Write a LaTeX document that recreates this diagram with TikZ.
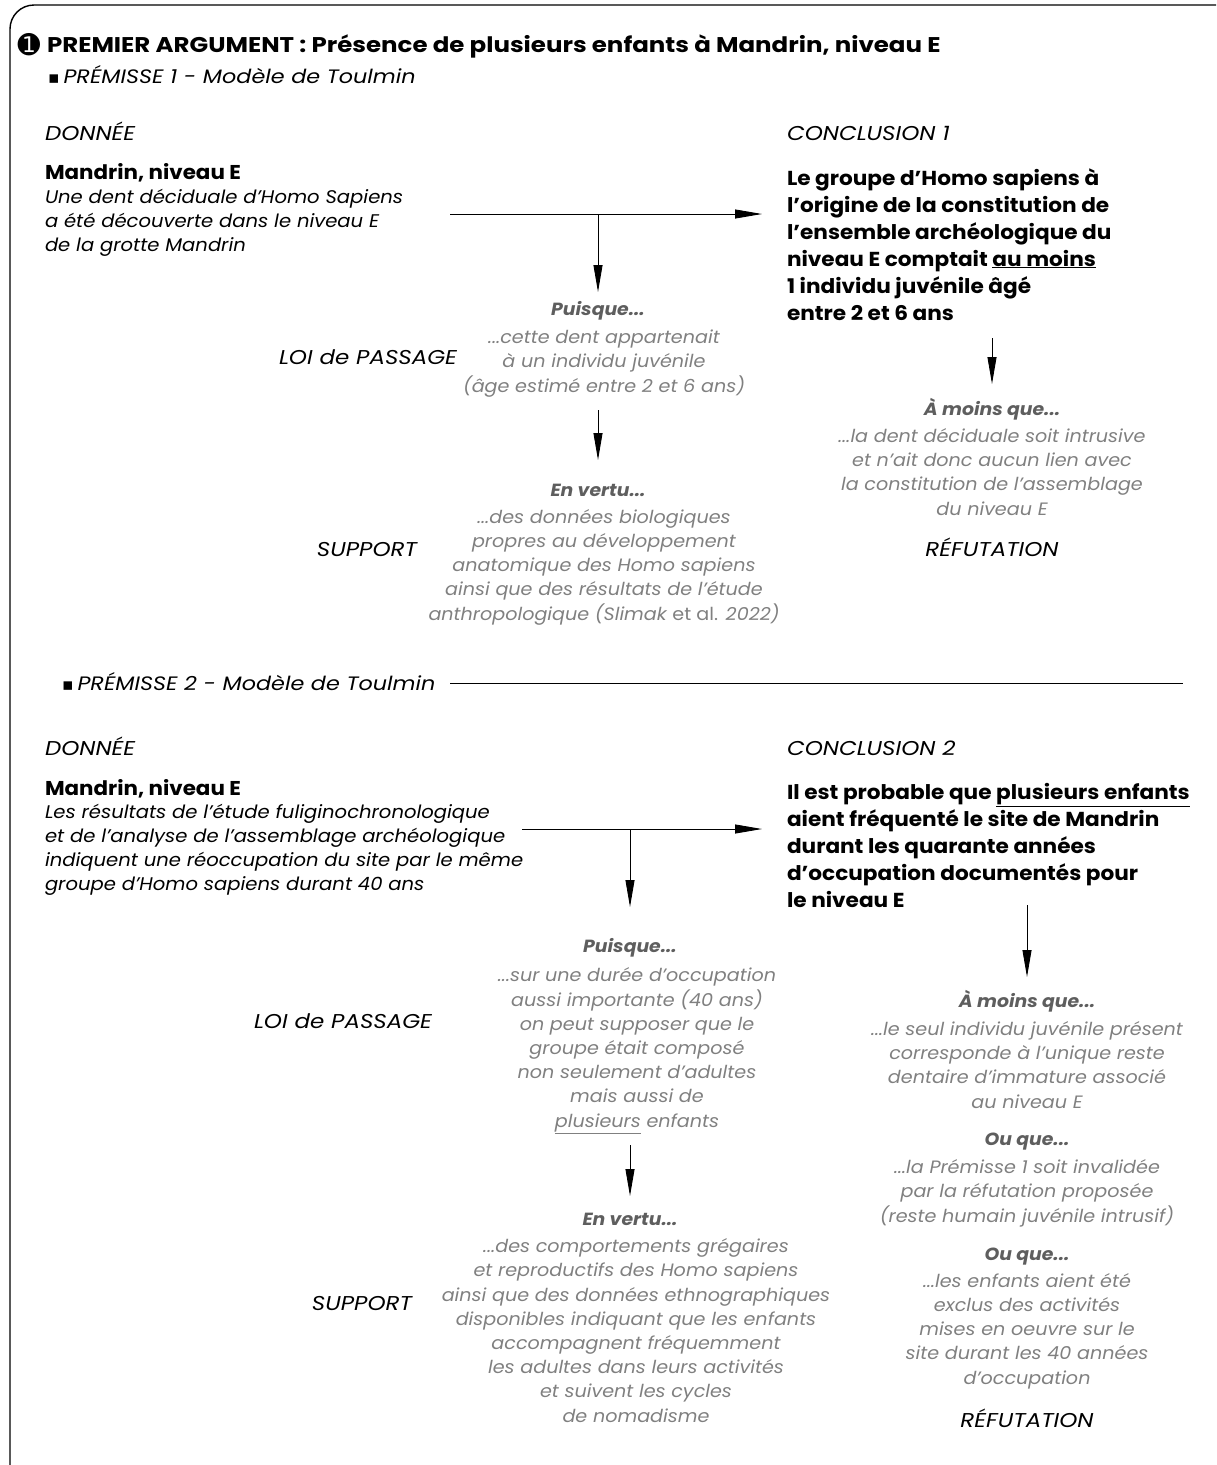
\documentclass[tikz,border=0pt]{standalone}
\usepackage{fontspec}
\setmainfont{Poppins}[FakeStretch=1.07]
\newfontfamily\widefont{Poppins}[FakeStretch=1.15]
\newfontfamily\symfont{DejaVu Sans}
\usetikzlibrary{arrows.meta}
\definecolor{txtgray}{HTML}{808080}
\definecolor{headgray}{HTML}{5E5E5E}
\begin{document}
\begin{tikzpicture}[x=1pt,y=-1pt,
  every node/.style={inner sep=0pt, outer sep=0pt},
  titlef/.style={font=\widefont\fontsize{21.3}{24}\selectfont\bfseries},
  numf/.style={font=\symfont\fontsize{27}{27}\selectfont},
  subf/.style={font=\widefont\fontsize{19.4}{24}\selectfont\itshape},
  lblf/.style={font=\widefont\fontsize{20}{24}\selectfont\itshape},
  boldf/.style={font=\fontsize{20}{24}\selectfont\bfseries},
  concf/.style={font=\fontsize{20.2}{27}\selectfont\bfseries, align=left},
  dataf/.style={font=\fontsize{18.3}{24}\selectfont\itshape, align=left},
  grayf/.style={font=\fontsize{17.9}{24.2}\selectfont\itshape, text=txtgray, align=center},
  headf/.style={font=\fontsize{17.6}{24}\selectfont\bfseries\itshape, text=headgray},
  arr/.style={line width=0.9pt, -{Triangle[length=27pt,width=9pt]}},
]
\useasboundingbox (0,0) rectangle (1216,1465);
\begin{scope}
\clip (0,0) rectangle (1216,1465);
\draw[line width=1.4pt, rounded corners=24pt] (10,5) rectangle (1240,1490);
\end{scope}

% Title
\node[numf] (num) at (29,45) {➊};
\node[anchor=base west, titlef] (title) at (47,52) {PREMIER ARGUMENT : Présence de plusieurs enfants à Mandrin, niveau E};
\node[anchor=base west, subf] (p1) at (48,83) {{\symfont\fontsize{17}{17}\selectfont ▪}\hspace{4pt}PRÉMISSE 1 - Modèle de Toulmin};

% Premise 1
\node[anchor=base west, lblf] (d1) at (45,140) {DONNÉE};
\node[anchor=base west, boldf] (m1) at (45,179) {Mandrin, niveau E};
\node[anchor=base west, dataf] (dt1) at (45,251) {Une dent déciduale d’Homo Sapiens\\a été découverte dans le niveau E\\de la grotte Mandrin};
\node[anchor=base west, lblf] (c1l) at (787,140) {CONCLUSION 1};
\node[anchor=base west, concf] (c1) at (787,320) {Le groupe d’Homo sapiens à\\l’origine de la constitution de\\l’ensemble archéologique du\\niveau E comptait \underline{au moins}\\1 individu juvénile âgé\\entre 2 et 6 ans};

\coordinate (a1s) at (450,214);
\coordinate (a1e) at (762,214);
\coordinate (a1m) at (598,214);
\draw[arr] (a1s) -- (a1e);
\coordinate (v1e) at (598,292);
\draw[arr] (a1m) -- (v1e);

\node[anchor=base, headf] (pu1) at (598,315) {Puisque...};
\node[anchor=base, grayf] (pu1t) at (604,392) {...cette dent appartenait\\à un individu juvénile\\(âge estimé entre 2 et 6 ans)};
\node[anchor=base, lblf] (loi1) at (368,364) {LOI de PASSAGE};
\coordinate (v2s) at (598,410);
\coordinate (v2e) at (598,460);
\draw[arr] (v2s) -- (v2e);
\node[anchor=base, headf] (ev1) at (598,496) {En vertu...};
\node[anchor=base, grayf] (ev1t) at (604,620) {...des données biologiques\\propres au développement\\anatomique des Homo sapiens\\ainsi que des résultats de l’étude\\anthropologique (Slimak {\upshape et al.} 2022)};
\node[anchor=base, lblf] (sup1) at (367,556) {SUPPORT};

\coordinate (v3s) at (992,338);
\coordinate (v3e) at (992,384);
\draw[arr] (v3s) -- (v3e);
\node[anchor=base, headf] (am1) at (992,415) {À moins que...};
\node[anchor=base, grayf] (am1t) at (992,515) {...la dent déciduale soit intrusive\\et n’ait donc aucun lien avec\\la constitution de l’assemblage\\du niveau E};
\node[anchor=base, lblf] (ref1) at (992,556) {RÉFUTATION};

% Premise 2
\node[anchor=base west, subf] (p2) at (62,690) {{\symfont\fontsize{17}{17}\selectfont ▪}\hspace{4pt}PRÉMISSE 2 - Modèle de Toulmin};
\coordinate (l2s) at (450,683);
\coordinate (l2e) at (1183,683);
\draw[line width=0.9pt] (l2s) -- (l2e);

\node[anchor=base west, lblf] (d2) at (45,755) {DONNÉE};
\node[anchor=base west, lblf] (c2l) at (787,755) {CONCLUSION 2};
\node[anchor=base west, boldf] (m2) at (45,795) {Mandrin, niveau E};
\node[anchor=base west, dataf] (dt2) at (45,890) {Les résultats de l’étude fuliginochronologique\\et de l’analyse de l’assemblage archéologique\\indiquent une réoccupation du site par le même\\groupe d’Homo sapiens durant 40 ans};
\node[anchor=base west, concf] (c2) at (787,907) {Il est probable que \underline{plusieurs enfants}\\aient fréquenté le site de Mandrin\\durant les quarante années\\d’occupation documentés pour\\le niveau E};

\coordinate (b1s) at (522,829);
\coordinate (b1e) at (762,829);
\coordinate (b1m) at (630,829);
\draw[arr] (b1s) -- (b1e);
\coordinate (w1e) at (630,907);
\draw[arr] (b1m) -- (w1e);

\node[anchor=base, headf] (pu2) at (630,952) {Puisque...};
\node[anchor=base, grayf] (pu2t) at (637,1127) {...sur une durée d’occupation\\aussi importante (40 ans)\\on peut supposer que le\\groupe était composé\\non seulement d’adultes\\mais aussi de\\\underline{plusieurs} enfants};
\node[anchor=base, lblf] (loi2) at (343,1028) {LOI de PASSAGE};
\coordinate (w2s) at (630,1145);
\coordinate (w2e) at (630,1196);
\draw[arr] (w2s) -- (w2e);
\node[anchor=base, headf] (ev2) at (630,1225) {En vertu...};
\node[anchor=base, grayf] (ev2t) at (636,1422) {...des comportements grégaires\\et reproductifs des Homo sapiens\\ainsi que des données ethnographiques\\disponibles indiquant que les enfants\\accompagnent fréquemment\\les adultes dans leurs activités\\et suivent les cycles\\de nomadisme};
\node[anchor=base, lblf] (sup2) at (362,1310) {SUPPORT};

\coordinate (w3s) at (1027,905);
\coordinate (w3e) at (1027,977);
\draw[arr] (w3s) -- (w3e);
\node[anchor=base, headf] (am2) at (1027,1007) {À moins que...};
\node[anchor=base, grayf] (am2t) at (1027,1108) {...le seul individu juvénile présent\\corresponde à l’unique reste\\dentaire d’immature associé\\au niveau E};
\node[anchor=base, headf] (ou1) at (1027,1145) {Ou que...};
\node[anchor=base, grayf] (ou1t) at (1027,1222) {...la Prémisse 1 soit invalidée\\par la réfutation proposée\\(reste humain juvénile intrusif)};
\node[anchor=base, headf] (ou2) at (1027,1260) {Ou que...};
\node[anchor=base, grayf] (ou2t) at (1027,1384) {...les enfants aient été\\exclus des activités\\mises en oeuvre sur le\\site durant les 40 années\\d’occupation};
\node[anchor=base, lblf] (ref2) at (1027,1427) {RÉFUTATION};
\end{tikzpicture}
\end{document}
